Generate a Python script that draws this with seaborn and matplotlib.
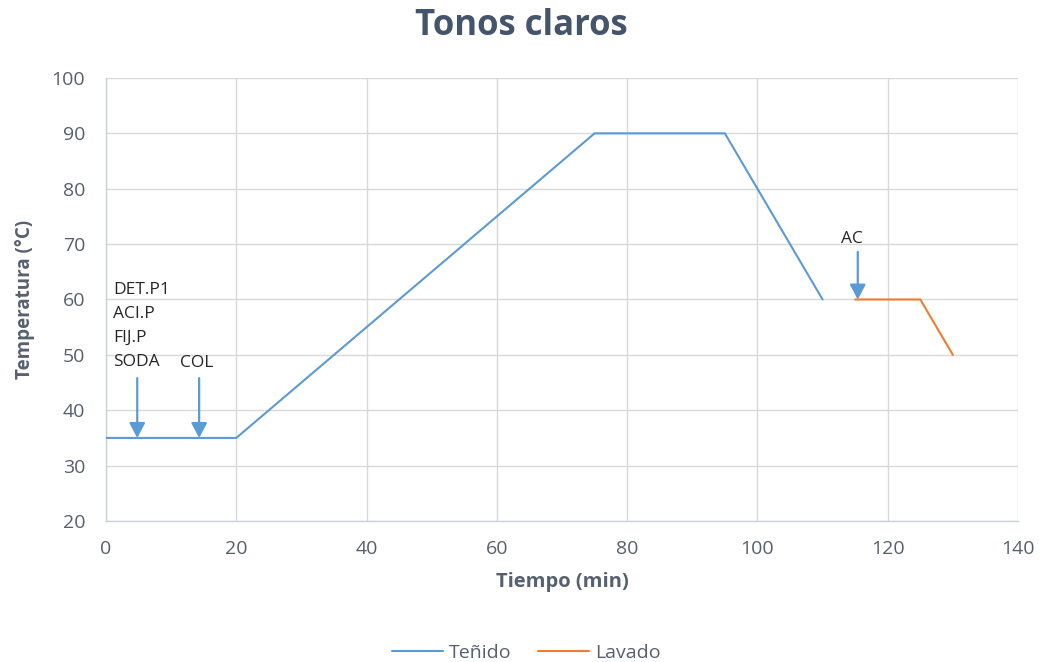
import matplotlib
matplotlib.use("Agg")
import matplotlib.pyplot as plt
import seaborn as sns
import pandas as pd

# Temperature profile for the dyeing (Teñido) and washing (Lavado) stages
tenido_t = [0, 20, 75, 95, 110]
tenido_T = [35, 35, 90, 90, 60]
lavado_t = [115, 125, 130]
lavado_T = [60, 60, 50]

series_names = ["Teñido", "Lavado"]
series_colors = ["#5B9BD5", "#ED7D31"]

# Chemical additions: label, time (min), arrow start / end temperature
add_labels = ["DET.P1\nACI.P\nFIJ.P\nSODA", "COL", "AC"]
add_time = [4.8, 14.3, 115.4]
add_from = [45.8, 45.8, 68.6]
add_to = [35, 35, 60]

x_ticks = [0, 20, 40, 60, 80, 100, 120, 140]
y_ticks = [20, 30, 40, 50, 60, 70, 80, 90, 100]

df = pd.concat([
    pd.DataFrame({"Tiempo": tenido_t, "Temp": tenido_T, "Serie": series_names[0]}),
    pd.DataFrame({"Tiempo": lavado_t, "Temp": lavado_T, "Serie": series_names[1]}),
], ignore_index=True)

sns.set_style("white")
plt.rcParams["font.family"] = ["Open Sans", "DejaVu Sans"]

TXT = "#56606E"

fig = plt.figure(figsize=(10.42, 6.62), dpi=100)
ax = fig.add_axes([0.1017, 0.213, 0.8753, 0.6692])

sns.lineplot(data=df, x="Tiempo", y="Temp", hue="Serie", palette=series_colors,
             hue_order=series_names, sort=False, estimator=None, lw=1.5, ax=ax,
             legend=False, zorder=3)

ax.set_xlim(0, 140)
ax.set_ylim(20, 100)
ax.set_xticks(x_ticks)
ax.set_yticks(y_ticks)
ax.grid(True, color="#D9D9D9", lw=1.0, zorder=0)
ax.set_axisbelow(True)
for s in ["top", "right"]:
    ax.spines[s].set_visible(False)
for s in ["left", "bottom"]:
    ax.spines[s].set_color("#C9D1DC")
    ax.spines[s].set_linewidth(1.0)
ax.tick_params(axis="x", length=0, labelsize=14, colors=TXT, pad=14)
ax.tick_params(axis="y", length=0, labelsize=14, colors=TXT, pad=15)

ax.set_xlabel("Tiempo (min)", fontsize=14.5, fontweight="bold", color=TXT, labelpad=10)
ax.set_ylabel("Temperatura (°C)", fontsize=13.5, fontweight="bold", color=TXT, labelpad=12)
fig.suptitle("Tonos claros", x=0.5, y=0.988, fontsize=25, fontweight="bold", color="#44546A")

# addition arrows
for t, y0, y1 in zip(add_time, add_from, add_to):
    ax.annotate("", xy=(t, y1), xytext=(t, y0),
                arrowprops=dict(arrowstyle="-|>,head_length=0.75,head_width=0.4",
                                color="#5B9BD5", lw=1.6, mutation_scale=12,
                                shrinkA=0, shrinkB=0), zorder=4)

# addition labels
ax.text(1.1, 63.2, add_labels[0], ha="left", va="top", fontsize=12.5,
        color="#262626", linespacing=1.66)
ax.text(11.3, 50.0, add_labels[1], ha="left", va="top", fontsize=12.5, color="#262626")
ax.text(114.5, 71, add_labels[2], ha="center", va="center", fontsize=12.5, color="#262626")

# legend below the chart
handles = [plt.Line2D([], [], color=c, lw=1.5) for c in series_colors]
fig.legend(handles, series_names, loc="center", bbox_to_anchor=(0.505, 0.014),
           ncol=2, frameon=False, fontsize=14, handlelength=2.6, handletextpad=0.3,
           columnspacing=1.4, labelcolor=TXT)

fig.savefig("out.png", dpi=100)
